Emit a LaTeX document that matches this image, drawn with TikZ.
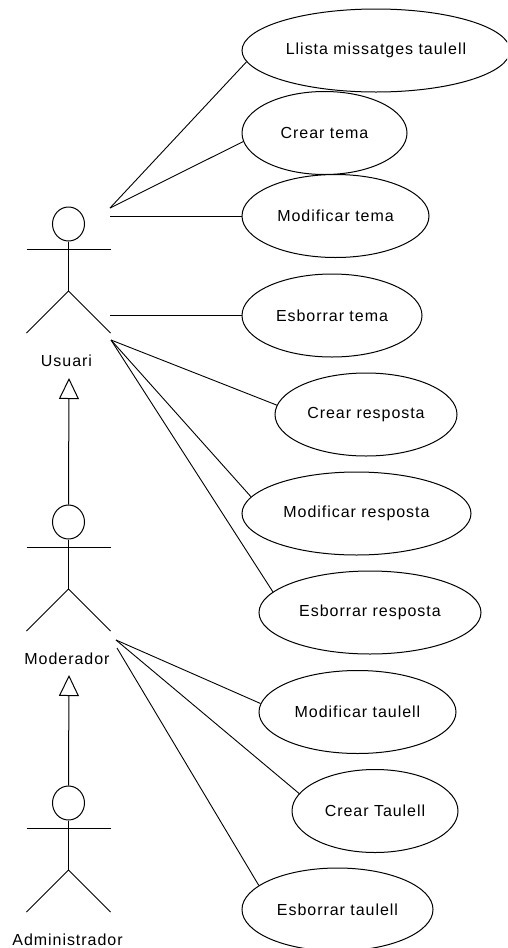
\documentclass[tikz,border=0pt]{standalone}
\usepackage{fontspec}
\setmainfont[LetterSpace=6]{Liberation Sans}
\usetikzlibrary{shapes.geometric,arrows.meta}
\tikzset{
  uc/.style={draw,ellipse,inner sep=0pt,minimum width=#1,minimum height=83pt,font=\fontsize{16}{18}\selectfont},
  lab/.style={inner sep=0pt,font=\fontsize{16}{18}\selectfont},
  headshape/.style={draw,ellipse,inner sep=0pt,minimum width=32pt,minimum height=34pt},
  gen/.style={-{Triangle[open,length=21pt,width=20pt]}},
  assoc/.style={line width=0.9pt},
  actor/.pic={
    \node[headshape] (-head) at (0,0) {};
    \coordinate (-hip) at (0,67);
    \coordinate (-larm) at (-42,25);
    \coordinate (-rarm) at (42,25);
    \coordinate (-lfoot) at (-42,109);
    \coordinate (-rfoot) at (42,109);
    \draw (-head.south) -- (-hip);
    \draw (-larm) -- (-rarm);
    \draw (-lfoot) -- (-hip) -- (-rfoot);
  }
}
\begin{document}
\begin{tikzpicture}[x=1pt,y=-1pt,line width=1pt]
\useasboundingbox (0,0) rectangle (507,948);
\clip (0,0) rectangle (507,948);
% use cases
\node[uc=268pt] (llista) at (376,50.5) {Llista missatges taulell};
\node[uc=165pt] (creart) at (324.5,133) {Crear tema};
\node[uc=187pt] (modt) at (335.5,216) {Modificar tema};
\node[uc=180pt] (esbt) at (332,315.5) {Esborrar tema};
\node[uc=182pt] (crearr) at (366,414.5) {Crear resposta};
\node[uc=229pt] (modr) at (356.5,513.5) {Modificar resposta};
\node[uc=222pt] (esbr) at (370,612.5) {Esborrar resposta};
\node[uc=197pt] (modta) at (357.5,712) {Modificar taulell};
\node[uc=166pt] (crearta) at (375,811) {Crear Taulell};
\node[uc=191pt] (esbta) at (337.5,909.5) {Esborrar taulell};
% actors
\pic (usu) at (68.5,224) {actor};
\pic (mod) at (68.5,522) {actor};
\pic (adm) at (68.5,803) {actor};
\node[lab] (usulab) at (66.5,361) {Usuari};
\node[lab] (modlab) at (67,659) {Moderador};
\node[lab] (admlab) at (67.5,940) {Administrador};
% association ends
\coordinate (u1) at (110,208);
\coordinate (u2) at (110,216);
\coordinate (u3) at (110,315.5);
\coordinate (u4) at (111,340);
\coordinate (m1) at (116,640);
\coordinate (m2) at (117,648);
\draw[assoc] (u1) -- (llista.185);
\draw[assoc] (u1) -- (creart.186);
\draw[assoc] (u2) -- (modt.west);
\draw[assoc] (u3) -- (esbt.west);
\draw[assoc] (u4) -- (crearr.174);
\draw[assoc] (u4) -- (modr.171);
\draw[assoc] (u4) -- (esbr.168);
\draw[assoc] (m1) -- (modta.175);
\draw[assoc] (m1) -- (crearta.167);
\draw[assoc] (m2) -- (esbta.163);
% generalisation
\coordinate (usutip) at (69,378);
\coordinate (modtip) at (69,675);
\draw[gen] (mod-head.north) -- (usutip);
\draw[gen] (adm-head.north) -- (modtip);
\end{tikzpicture}
\end{document}
